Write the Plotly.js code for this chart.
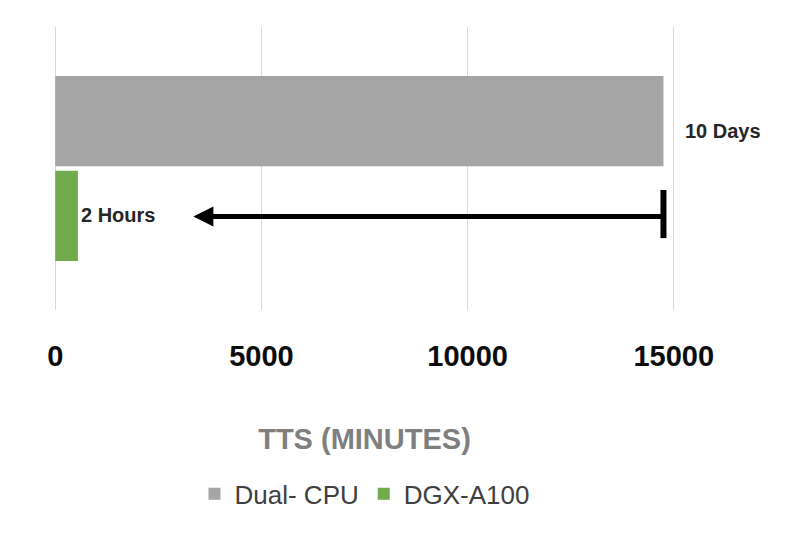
<!DOCTYPE html>
<html><head><meta charset="utf-8">
<script src="https://cdn.plot.ly/plotly-3.0.1.min.js"></script>
<style>html,body{margin:0;padding:0;background:#fff;}#chart{width:796px;height:550px;}</style>
</head><body><div id="chart"></div>
<script>
const category = ['TTS'];
const seriesNames = ['Dual- CPU', 'DGX-A100'];
const cpuMinutes = [14750];
const gpuMinutes = [550];
const cpuLabel = '10 Days';
const gpuLabel = '2 Hours';
const arrowTipMinutes = 3350;
const xTickValues = [0, 5000, 10000, 15000];
const xTickLabels = ['0', '5000', '10000', '15000'];
const axisTitle = 'TTS (MINUTES)';

const FONT = 'Liberation Sans, Arial, sans-serif';

const traces = [
  {type: 'bar', orientation: 'h', name: seriesNames[0], y: category, x: cpuMinutes,
   marker: {color: '#a5a5a5'}, hoverinfo: 'x'},
  {type: 'bar', orientation: 'h', name: seriesNames[1], y: category, x: gpuMinutes,
   marker: {color: '#72ab4c'}, hoverinfo: 'x'}
];

const layout = {
  width: 796, height: 550,
  paper_bgcolor: '#ffffff', plot_bgcolor: '#ffffff',
  margin: {l: 54, r: 121, t: 27, b: 240, pad: 0},
  barmode: 'group', bargap: 0.33, bargroupgap: 0.05,
  font: {family: FONT, color: '#262626'},
  xaxis: {
    range: [-30, 15030], tickvals: xTickValues, ticktext: xTickLabels,
    showgrid: true, gridcolor: '#d9d9d9', gridwidth: 1,
    zeroline: true, zerolinecolor: '#d9d9d9', zerolinewidth: 1,
    showline: false, ticks: '', ticklabelstandoff: 26,
    tickfont: {family: FONT, size: 29, color: '#0d0d0d', weight: 'bold'},
    title: {text: axisTitle, standoff: 57,
            font: {family: FONT, size: 29, color: '#7f7f7f', weight: 'bold'}},
    automargin: false, fixedrange: true
  },
  yaxis: {
    autorange: 'reversed', showticklabels: false, showgrid: false,
    zeroline: false, showline: false, ticks: '', automargin: false, fixedrange: true
  },
  showlegend: true,
  legend: {orientation: 'h', x: 0.5, xanchor: 'center', y: -0.65, yanchor: 'middle',
           font: {family: FONT, size: 26, color: '#404040'}, itemclick: false,
           traceorder: 'normal'},
  annotations: [
    {x: cpuMinutes[0], y: 0.631, xref: 'x', yref: 'paper', text: cpuLabel,
     showarrow: false, xanchor: 'left', yanchor: 'middle', xshift: 20,
     font: {family: FONT, size: 20, color: '#262626', weight: 'bold'}},
    {x: gpuMinutes[0], y: 0.336, xref: 'x', yref: 'paper', text: gpuLabel,
     showarrow: false, xanchor: 'left', yanchor: 'middle', xshift: 1,
     font: {family: FONT, size: 20, color: '#262626', weight: 'bold'}},
    {x: arrowTipMinutes, y: 0.33, xref: 'x', yref: 'paper', text: '',
     showarrow: true, axref: 'x', ax: cpuMinutes[0], ayref: 'pixel', ay: 0,
     arrowhead: 2, arrowsize: 0.8, arrowwidth: 5, arrowcolor: '#000000'}
  ],
  shapes: [
    {type: 'line', xref: 'x', yref: 'paper', x0: cpuMinutes[0], x1: cpuMinutes[0],
     y0: 0.254, y1: 0.424, line: {color: '#000000', width: 6}}
  ]
};

Plotly.newPlot('chart', traces, layout, {displayModeBar: false, staticPlot: true});
</script>
</body></html>
